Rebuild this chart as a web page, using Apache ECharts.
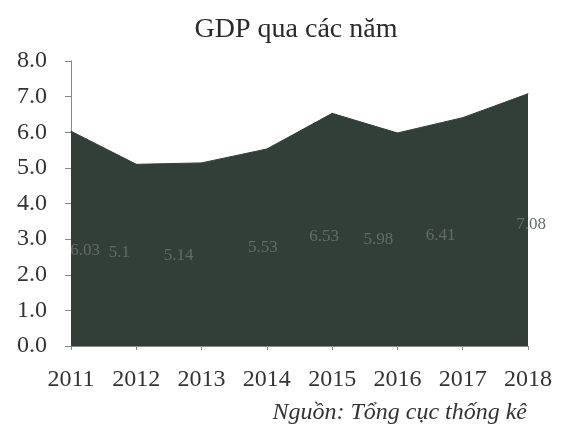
<!DOCTYPE html>
<html>
<head>
<meta charset="utf-8">
<style>
  html, body { margin: 0; padding: 0; background: #ffffff; }
  #chart { width: 561px; height: 448px; }
</style>
<script src="https://cdn.jsdelivr.net/npm/echarts@6/dist/echarts.min.js"></script>
</head>
<body>
<div id="chart"></div>
<script>
// GDP growth (%) by year
const years = ['2011', '2012', '2013', '2014', '2015', '2016', '2017', '2018'];
const gdpGrowth = [6.03, 5.1, 5.14, 5.53, 6.53, 5.98, 6.41, 7.08];
const yTicks = { min: 0, max: 8, interval: 1 };

// label placement tweaks (pixels) for the value labels drawn inside the area
const labelOffsets = [[14, 119], [-17, 88], [-23, 93], [-4, 99], [-8, 123], [-19, 107], [-22, 118], [3, 131]];

const serif = '"Liberation Serif", "DejaVu Serif", serif';
const fillColor = '#323f39';

const chart = echarts.init(document.getElementById('chart'), null, { renderer: 'canvas' });

chart.setOption({
  animation: false,
  backgroundColor: '#ffffff',
  title: {
    text: 'GDP qua các năm',
    left: 291,
    textAlign: 'center',
    top: 11,
    textStyle: { fontFamily: serif, fontSize: 28, fontWeight: 'normal', color: '#2a2a2a' }
  },
  graphic: [{
    type: 'text',
    right: 34,
    top: 401,
    style: {
      text: 'Nguồn: Tổng cục thống kê',
      font: 'italic 24px ' + serif,
      fill: '#333333'
    }
  }],
  grid: { left: 71, right: 33, top: 61, bottom: 102, containLabel: false },
  xAxis: {
    type: 'category',
    data: years,
    boundaryGap: false,
    axisLine: { show: true, lineStyle: { color: '#888888', width: 1 } },
    axisTick: { show: true, alignWithLabel: true, length: 4, lineStyle: { color: '#888888' } },
    axisLabel: { fontFamily: serif, fontSize: 24, color: '#333333', margin: 22 },
    splitLine: { show: false }
  },
  yAxis: {
    type: 'value',
    min: yTicks.min,
    max: yTicks.max,
    interval: yTicks.interval,
    axisLine: { show: true, lineStyle: { color: '#888888', width: 1 } },
    axisTick: { show: true, length: 6, lineStyle: { color: '#888888' } },
    axisLabel: {
      fontFamily: serif, fontSize: 24, color: '#333333', margin: 24,
      formatter: v => v.toFixed(1)
    },
    splitLine: { show: false }
  },
  series: [{
    type: 'line',
    data: gdpGrowth,
    symbol: 'circle',
    symbolSize: 1,
    showSymbol: true,
    itemStyle: { color: fillColor, borderWidth: 0 },
    lineStyle: { color: fillColor, width: 1 },
    areaStyle: { color: fillColor, opacity: 1 },
    label: {
      show: true,
      position: 'inside',
      fontFamily: serif,
      fontSize: 17,
      color: '#636b67',
      formatter: p => String(p.value)
    },
    labelLayout: p => ({
      dx: labelOffsets[p.dataIndex][0],
      dy: labelOffsets[p.dataIndex][1],
      hideOverlap: false
    })
  }]
});
</script>
</body>
</html>
